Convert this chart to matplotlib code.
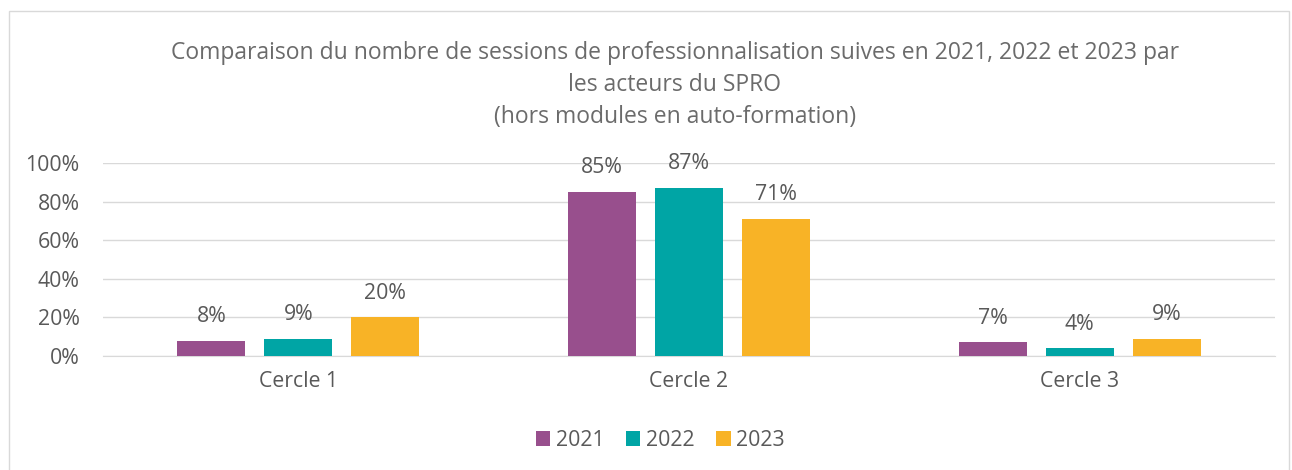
import matplotlib.pyplot as plt
import numpy as np
from matplotlib.patches import Rectangle

plt.rcParams['font.family'] = ['Open Sans', 'DejaVu Sans']

categories = ['Cercle 1', 'Cercle 2', 'Cercle 3']
years = ['2021', '2022', '2023']
values_2021 = [8, 85, 7]
values_2022 = [9, 87, 4]
values_2023 = [20, 71, 9]
colors = ['#984f8d', '#00a5a5', '#f8b326']

title = ('Comparaison du nombre de sessions de professionnalisation suives en 2021, 2022 et 2023 par\n'
         'les acteurs du SPRO\n(hors modules en auto-formation)')

fig = plt.figure(figsize=(12.92, 4.70), dpi=100)
# chart frame
fig.patches.append(Rectangle((9 / 1292, -0.01), 1280 / 1292, 1 - 11 / 470 + 0.01,
                             transform=fig.transFigure, fill=False,
                             edgecolor='#d9d9d9', linewidth=1))

ax = fig.add_axes([103 / 1292, 1 - 356 / 470, 1172 / 1292, 193 / 470])

x = np.arange(len(categories))
width = 0.174
step = 0.2227
series = [values_2021, values_2022, values_2023]
for i, (vals, col, yr) in enumerate(zip(series, colors, years)):
    pos = x + (i - 1) * step
    bars = ax.bar(pos, vals, width, color=col, label=yr, zorder=3)
    for b, v in zip(bars, vals):
        ax.text(b.get_x() + b.get_width() / 2, v + 12.5, f'{v}%',
                ha='center', va='center', fontsize=15.3, color='#595959')

ax.set_xlim(-0.5, 2.5)
ax.set_ylim(0, 100)
ax.set_yticks(range(0, 101, 20))
ax.set_yticklabels([f'{t}%' for t in range(0, 101, 20)])
ax.set_xticks(x)
ax.set_xticklabels(categories)
ax.yaxis.grid(True, color='#d9d9d9', linewidth=1, zorder=0)
ax.set_axisbelow(True)
for s in ['top', 'right', 'left']:
    ax.spines[s].set_visible(False)
ax.spines['bottom'].set_color('#d9d9d9')
ax.tick_params(axis='both', length=0, labelsize=15.3, labelcolor='#595959')
ax.tick_params(axis='y', pad=17)
ax.tick_params(axis='x', pad=11)

fig.text(675 / 1292, 1 - 85 / 470, title, ha='center', va='center', fontsize=16.5,
         color='#6b6b6b', linespacing=1.42)

fig.legend(loc='center', bbox_to_anchor=(660 / 1292, 1 - 440 / 470), ncol=3,
           frameon=False, fontsize=15.3, handlelength=0.7, handleheight=0.7,
           handletextpad=0.25, columnspacing=1.0, labelcolor='#595959')

fig.savefig('out.png', dpi=100)
